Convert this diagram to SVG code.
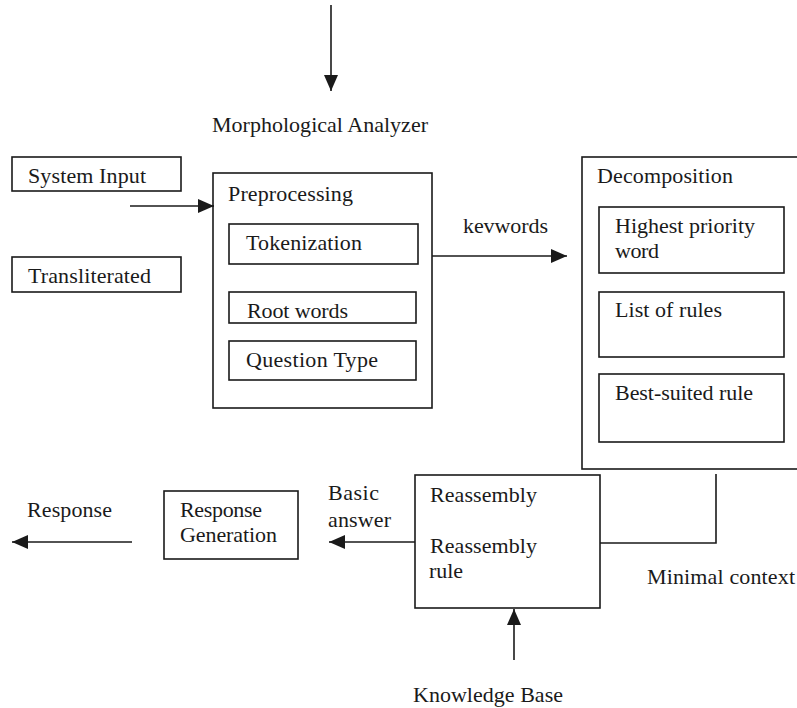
<svg xmlns="http://www.w3.org/2000/svg" width="797" height="708" viewBox="0 0 797 708">
<style>
.b{fill:none;stroke:#1a1a1a;stroke-width:1.6}
.c line,.c polyline{fill:none;stroke:#1a1a1a;stroke-width:1.6}
</style>
<defs>
<marker id="ah" markerUnits="userSpaceOnUse" markerWidth="16" markerHeight="14" refX="16" refY="7" orient="auto">
<path d="M0,0 L16,7 L0,14 z" fill="#1a1a1a"/>
</marker>
</defs>
<rect width="797" height="708" fill="#ffffff"/>
<g font-family="Liberation Serif, Times New Roman, serif" font-size="22" fill="#1a1a1a">
<g id="morph"><text x="212" y="132" textLength="216">Morphological Analyzer</text></g>
<g id="system-input"><rect class="b" x="12" y="157" width="169" height="34"/><text x="28" y="183" textLength="118">System Input</text></g>
<g id="transliterated"><rect class="b" x="12" y="257" width="169" height="35"/><text x="28" y="283" textLength="123">Transliterated</text></g>
<g id="preprocessing"><rect class="b" x="213" y="173" width="219" height="235"/><text x="228" y="201" textLength="125">Preprocessing</text>
<g id="tokenization"><rect class="b" x="229" y="224" width="189" height="40"/><text x="246" y="250" textLength="116">Tokenization</text></g>
<g id="root-words"><rect class="b" x="229" y="292" width="187" height="31"/><text x="247" y="318" textLength="101">Root words</text></g>
<g id="question-type"><rect class="b" x="229" y="341" width="187" height="39"/><text x="246" y="367" textLength="132">Question Type</text></g>
</g>
<g id="decomposition"><rect class="b" x="582" y="157" width="240" height="312"/><text x="597" y="183" textLength="136">Decomposition</text>
<g id="highest"><rect class="b" x="599" y="207" width="185" height="66"/><text x="615" y="233" textLength="140">Highest priority</text><text x="615" y="258" textLength="44">word</text></g>
<g id="list-rules"><rect class="b" x="599" y="292" width="185" height="65"/><text x="615" y="317" textLength="107">List of rules</text></g>
<g id="best-rule"><rect class="b" x="599" y="374" width="185" height="68"/><text x="615" y="400" textLength="138">Best-suited rule</text></g>
</g>
<g id="reassembly"><rect class="b" x="415" y="475" width="185" height="133"/><text x="430" y="502" textLength="107">Reassembly</text><text x="430" y="553" textLength="107">Reassembly</text><text x="429" y="578" textLength="34">rule</text></g>
<g id="response-generation"><rect class="b" x="164" y="491" width="134" height="68"/><text x="180" y="517" textLength="82">Response</text><text x="180" y="542" textLength="97">Generation</text></g>
<g id="labels">
<text x="463" y="233" textLength="85">kevwords</text>
<text x="328" y="500" textLength="51">Basic</text>
<text x="328" y="527" textLength="63">answer</text>
<text x="27" y="517" textLength="85">Response</text>
<text x="647" y="584" textLength="148">Minimal context</text>
<text x="413" y="702" textLength="150">Knowledge Base</text>
</g>
</g>
<g id="connectors" class="c">
<line x1="331" y1="5" x2="331" y2="91" marker-end="url(#ah)"/>
<line x1="130" y1="206" x2="214" y2="206" marker-end="url(#ah)"/>
<line x1="432" y1="256" x2="567" y2="256" marker-end="url(#ah)"/>
<polyline points="716,474 716,543 600,543"/>
<line x1="415" y1="542" x2="329" y2="542" marker-end="url(#ah)"/>
<line x1="132" y1="542" x2="12" y2="542" marker-end="url(#ah)"/>
<line x1="514" y1="660" x2="514" y2="609" marker-end="url(#ah)"/>
</g>
</svg>
